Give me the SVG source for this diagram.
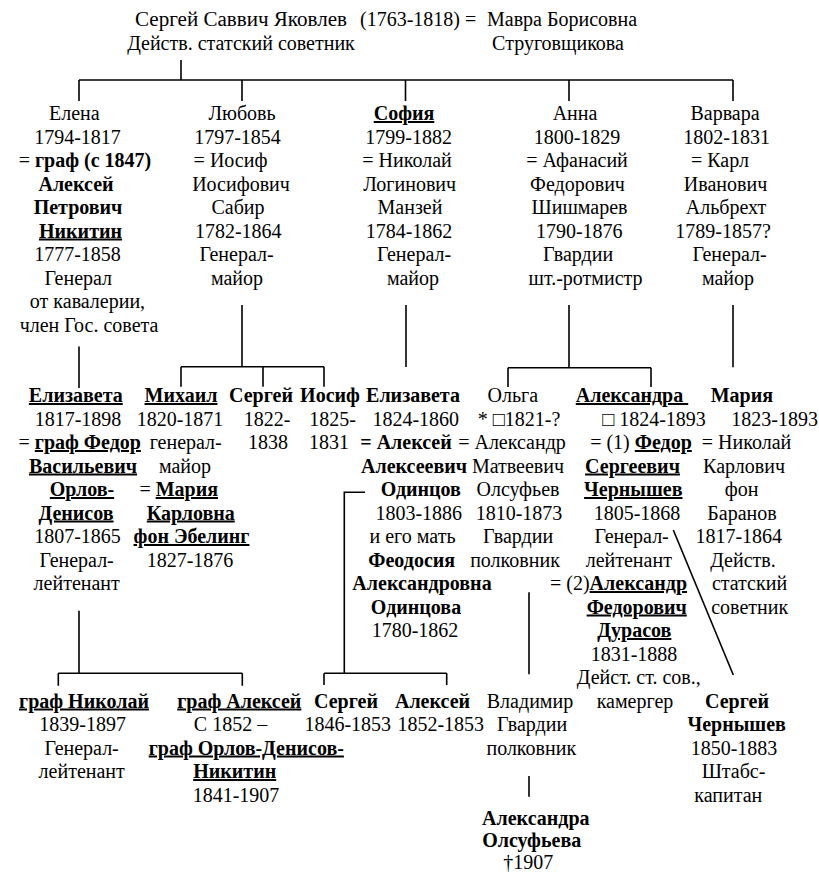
<svg xmlns="http://www.w3.org/2000/svg" width="819" height="874" viewBox="0 0 819 874">
<style>
text{font-family:"Liberation Serif","Times New Roman",serif;font-size:20px;fill:#000;text-anchor:middle}
.s{text-anchor:start}
.b{font-weight:bold}
.u{text-decoration:underline}
.c path{stroke:#000;stroke-width:1.6;fill:none}
</style>
<rect width="819" height="874" fill="#fff"/>
<g class="c" id="connectors">
<path d="M181,60V80M79,80H733M79,80V101M242,80V101M405.5,80V101M569,80V101M733,80V101"/>
<path d="M79,346.5V388"/>
<path d="M242,305V366.7M181,366.7H324M181,366.7V386.7M263,366.7V386.7M324,366.7V386.7"/>
<path d="M406,305V367"/>
<path d="M569,305V367.7M508,367.7H651M508,367.7V387M651,367.7V387"/>
<path d="M733,305V367.3"/>
<path d="M79,610.7V673.3M58.3,673.3H242.3M58.3,673.3V685.7M242.3,673.3V685.7"/>
<path d="M365,492.3H344.3V673.3M324,673.3H446.7M324,673.3V685M446.7,673.3V685"/>
<path d="M529,592.3V674.3M529,776V796.7"/>
<path d="M673.3,530L733.3,675"/>
</g>
<g id="n-sergey-sr">
<text class="s" x="135" y="26" textLength="212" lengthAdjust="spacingAndGlyphs">Сергей Саввич Яковлев</text>
<text class="s" x="360" y="26">(1763-1818)</text>
<text class="s" x="465" y="26">=</text>
<text class="s" x="487" y="26">Мавра Борисовна</text>
<text x="241" y="49.5">Действ. статский советник</text>
<text x="558" y="49.5">Струговщикова</text>
</g>
<g id="n-elena">
<text x="74.3" y="120">Елена</text>
<text x="77.5" y="143.5">1794-1817</text>
<text x="85" y="167">= <tspan class="b">граф (с 1847)</tspan></text>
<text class="b" x="76" y="190.5">Алексей</text>
<text class="b" x="78" y="214">Петрович</text>
<text class="b u" x="80.5" y="237.5">Никитин</text>
<text x="77.5" y="261">1777-1858</text>
<text x="78.3" y="284.5">Генерал</text>
<text x="87.5" y="308">от кавалерии,</text>
<text x="89" y="331.5">член Гос. совета</text>
</g>
<g id="n-lyubov">
<text x="242" y="120">Любовь</text>
<text x="237.5" y="143.5">1797-1854</text>
<text x="230.5" y="167">= Иосиф</text>
<text x="241" y="190.5">Иосифович</text>
<text x="238" y="214">Сабир</text>
<text x="238.3" y="237.5">1782-1864</text>
<text x="236.5" y="261">Генерал-</text>
<text x="237" y="284.5">майор</text>
</g>
<g id="n-sofia">
<text class="b u" x="404" y="120">София</text>
<text x="408.7" y="143.5">1799-1882</text>
<text x="407" y="167">= Николай</text>
<text x="409.7" y="190.5">Логинович</text>
<text x="410" y="214">Манзей</text>
<text x="409" y="237.5">1784-1862</text>
<text x="414" y="261">Генерал-</text>
<text x="413" y="284.5">майор</text>
</g>
<g id="n-anna">
<text x="575" y="120">Анна</text>
<text x="577" y="143.5">1800-1829</text>
<text x="577" y="167">= Афанасий</text>
<text x="577.5" y="190.5">Федорович</text>
<text x="579.5" y="214">Шишмарев</text>
<text x="579.3" y="237.5">1790-1876</text>
<text x="578" y="261">Гвардии</text>
<text x="585.5" y="284.5">шт.-ротмистр</text>
</g>
<g id="n-varvara">
<text x="725" y="120">Варвара</text>
<text x="726.7" y="143.5">1802-1831</text>
<text x="720" y="167">= Карл</text>
<text x="725.5" y="190.5">Иванович</text>
<text x="726" y="214">Альбрехт</text>
<text x="723" y="237.5">1789-1857?</text>
<text x="729.5" y="261">Генерал-</text>
<text x="728" y="284.5">майор</text>
</g>
<g id="n-elizaveta-orlova">
<text class="b u" x="75.8" y="402">Елизавета</text>
<text x="78" y="425.5">1817-1898</text>
<text x="79.7" y="449">= <tspan class="b u">граф Федор</tspan></text>
<text class="b u" x="83" y="472.5">Васильевич</text>
<text class="b u" x="82" y="496">Орлов-</text>
<text class="b u" x="76" y="519.5">Денисов</text>
<text x="77.5" y="543">1807-1865</text>
<text x="76.7" y="566.5">Генерал-</text>
<text x="76.7" y="590">лейтенант</text>
</g>
<g id="n-mikhail">
<text class="b u" x="181" y="402">Михаил</text>
<text x="180" y="425.5">1820-1871</text>
<text x="185.7" y="449">генерал-</text>
<text x="185" y="472.5">майор</text>
<text x="178.7" y="496">= <tspan class="b u">Мария</tspan></text>
<text class="b u" x="190.8" y="519.5">Карловна</text>
<text class="b u" x="191.5" y="543">фон Эбелинг</text>
<text x="190" y="566.5">1827-1876</text>
</g>
<g id="n-sergey-sabir">
<text class="b" x="261" y="402">Сергей</text>
<text x="267" y="425.5">1822-</text>
<text x="268" y="449">1838</text>
</g>
<g id="n-iosif">
<text class="b" x="330" y="402">Иосиф</text>
<text x="332.7" y="425.5">1825-</text>
<text x="329" y="449">1831</text>
</g>
<g id="n-elizaveta-odintsova">
<text class="b" x="413" y="402">Елизавета</text>
<text x="415.8" y="425.5">1824-1860</text>
<text class="b" x="406" y="449">= Алексей</text>
<text class="b" x="414" y="472.5">Алексеевич</text>
<text class="b" x="420.8" y="496">Одинцов</text>
<text x="418.8" y="519.5">1803-1886</text>
<text x="412.5" y="543">и его мать</text>
<text class="b" x="411.7" y="566.5">Феодосия</text>
<text class="b" x="422" y="590">Александровна</text>
<text class="b" x="416" y="613.5">Одинцова</text>
<text x="415" y="637">1780-1862</text>
</g>
<g id="n-olga">
<text x="512.8" y="402">Ольга</text>
<text x="519" y="425.5">* □1821-?</text>
<text x="512" y="449">= Александр</text>
<text x="518" y="472.5">Матвеевич</text>
<text x="518" y="496">Олсуфьев</text>
<text x="519" y="519.5">1810-1873</text>
<text x="518" y="543">Гвардии</text>
<text x="515" y="566.5">полковник</text>
</g>
<g id="n-aleksandra">
<text class="b u" x="632" y="402">Александра&#160;</text>
<text x="654" y="425.5">□ 1824-1893</text>
<text x="641" y="449">= (1) <tspan class="b u">Федор</tspan></text>
<text class="b u" x="632.5" y="472.5">Сергеевич</text>
<text class="b u" x="633.3" y="496">Чернышев</text>
<text x="637" y="519.5">1805-1868</text>
<text x="631.7" y="543">Генерал-</text>
<text x="628.8" y="566.5">лейтенант</text>
<text class="s" x="550" y="590">= (2)<tspan class="b u">Александр</tspan></text>
<text class="b u" x="636.7" y="613.5">Федорович</text>
<text class="b u" x="634.3" y="637">Дурасов</text>
<text x="634" y="660.5">1831-1888</text>
<text x="638.8" y="684">Дейст. ст. сов.,</text>
<text x="635" y="707.5">камергер</text>
</g>
<g id="n-maria-baranova">
<text class="b" x="741.8" y="402">Мария</text>
<text x="774.7" y="425.5">1823-1893</text>
<text x="746.5" y="449">= Николай</text>
<text x="744" y="472.5">Карлович</text>
<text x="741.7" y="496">фон</text>
<text x="742" y="519.5">Баранов</text>
<text x="738.8" y="543">1817-1864</text>
<text x="743" y="566.5">Действ.</text>
<text x="749.5" y="590">статский</text>
<text x="749.7" y="613.5">советник</text>
</g>
<g id="n-nikolay">
<text class="b u" x="84" y="707.5">граф Николай</text>
<text x="82.7" y="731">1839-1897</text>
<text x="81.7" y="754.5">Генерал-</text>
<text x="81.7" y="778">лейтенант</text>
</g>
<g id="n-aleksey-orlov">
<text class="b u" x="239.3" y="707.5">граф Алексей</text>
<text x="230.5" y="731">С 1852 –</text>
<text class="b u" x="246.3" y="754.5">граф Орлов-Денисов-</text>
<text class="b u" x="234.7" y="778">Никитин</text>
<text x="236" y="801.5">1841-1907</text>
</g>
<g id="n-sergey-odintsov">
<text class="b" x="346" y="707.5">Сергей</text>
<text x="347.8" y="731">1846-1853</text>
</g>
<g id="n-aleksey-odintsov">
<text class="b" x="432.5" y="707.5">Алексей</text>
<text x="440.8" y="731">1852-1853</text>
</g>
<g id="n-vladimir">
<text x="530" y="707.5">Владимир</text>
<text x="532" y="731">Гвардии</text>
<text x="531.3" y="754.5">полковник</text>
</g>
<g id="n-sergey-chernyshev">
<text class="b" x="737" y="707.5">Сергей</text>
<text class="b" x="736.7" y="731">Чернышев</text>
<text x="734" y="754.5">1850-1883</text>
<text x="733.5" y="778">Штабс-</text>
<text x="728.3" y="801.5">капитан</text>
</g>
<g id="n-aleksandra-olsufieva">
<text class="b" x="535.8" y="824.5">Александра</text>
<text class="b" x="531.7" y="847">Олсуфьева</text>
<text x="528.3" y="869">†1907</text>
</g>
</svg>
